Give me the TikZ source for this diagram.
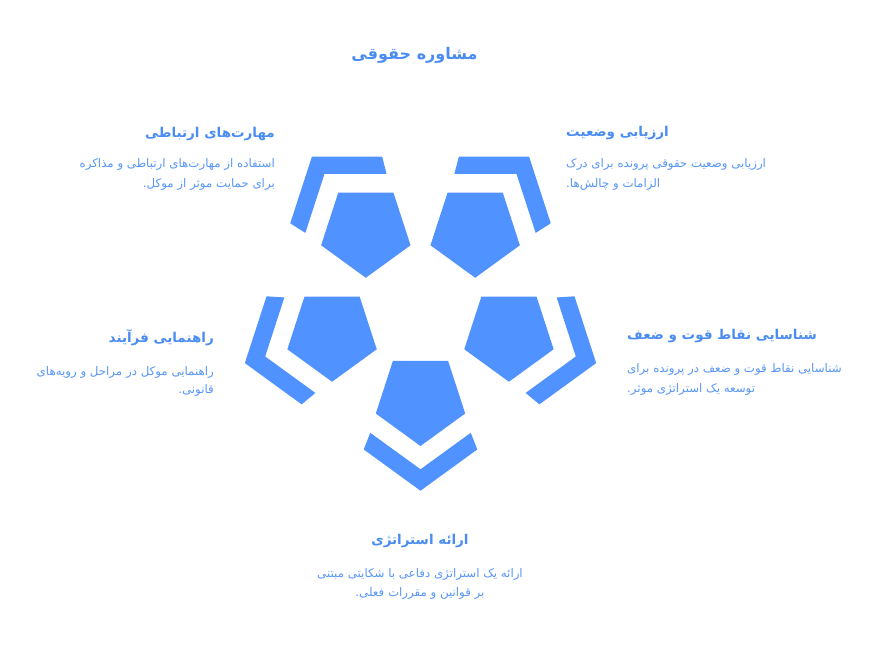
\documentclass[tikz,border=0pt]{standalone}
\usepackage{fontspec}
\usetikzlibrary{calc}
\newfontfamily\arabicfont[Script=Arabic]{DejaVu Sans}
\TeXXeTstate=1
\definecolor{pblue}{RGB}{80,146,255}
\definecolor{hblue}{RGB}{74,140,242}
\definecolor{tblue}{RGB}{88,150,246}
\tikzset{
  titletext/.style={font=\arabicfont\bfseries\fontsize{16}{20}\selectfont, text=hblue, inner sep=0pt},
  headtext/.style={font=\arabicfont\bfseries\fontsize{13.5}{16}\selectfont, text=hblue, inner sep=0pt},
  bodytext/.style={font=\arabicfont\fontsize{11.8}{14}\selectfont, text=tblue, inner sep=0pt},
}
\begin{document}
\begin{tikzpicture}[x=1pt,y=1pt]
\useasboundingbox (0,0) rectangle (877,649);
\coordinate (O) at (420.5,343);
\foreach \a in {54,126,198,270,342} {
  \coordinate (C) at ($(O)+(\a:93)$);
  \fill[pblue] ($(C)+(54:47)$) -- ($(C)+(126:47)$) -- ($(C)+(198:47)$) -- ($(C)+(270:47)$) -- ($(C)+(342:47)$) -- cycle;
  \begin{scope}
    \clip ($(O)+({\a-21.6}:100)$) -- ($(O)+({\a-21.6}:320)$) -- ($(O)+({\a+21.6}:320)$) -- ($(O)+({\a+21.6}:100)$) -- cycle;
    \fill[pblue,even odd rule]
      ($(C)+(54:91.7)$) -- ($(C)+(126:91.7)$) -- ($(C)+(198:91.7)$) -- ($(C)+(270:91.7)$) -- ($(C)+(342:91.7)$) -- cycle
      ($(C)+(54:70.3)$) -- ($(C)+(126:70.3)$) -- ($(C)+(198:70.3)$) -- ($(C)+(270:70.3)$) -- ($(C)+(342:70.3)$) -- cycle;
  \end{scope}
}
\node[titletext] (title) at (414.5,594) {\beginR مشاوره حقوقی\endR};
% top-left
\node[headtext,anchor=east] (h1) at (275,515) {\beginR مهارت‌های ارتباطی\endR};
\node[bodytext,anchor=east] (b1a) at (275,485) {\beginR استفاده از مهارت‌های ارتباطی و مذاکره\endR};
\node[bodytext,anchor=east] (b1b) at (275,465) {\beginR برای حمایت موثر از موکل.\endR};
% top-right
\node[headtext,anchor=west] (h2) at (566,516) {\beginR ارزیابی وضعیت\endR};
\node[bodytext,anchor=west] (b2a) at (566,485) {\beginR ارزیابی وضعیت حقوقی پرونده برای درک\endR};
\node[bodytext,anchor=west] (b2b) at (566,465) {\beginR الزامات و چالش‌ها.\endR};
% middle-left
\node[headtext,anchor=east] (h3) at (214,311) {\beginR راهنمایی فرآیند\endR};
\node[bodytext,anchor=east] (b3a) at (214,277) {\beginR راهنمایی موکل در مراحل و رویه‌های\endR};
\node[bodytext,anchor=east] (b3b) at (214,259) {\beginR قانونی.\endR};
% middle-right
\node[headtext,anchor=west] (h4) at (627,313) {\beginR شناسایی نقاط قوت و ضعف\endR};
\node[bodytext,anchor=west] (b4a) at (627,280) {\beginR شناسایی نقاط قوت و ضعف در پرونده برای\endR};
\node[bodytext,anchor=west] (b4b) at (627,260) {\beginR توسعه یک استراتژی موثر.\endR};
% bottom
\node[headtext] (h5) at (420,108) {\beginR ارائه استراتژی\endR};
\node[bodytext] (b5a) at (420,75) {\beginR ارائه یک استراتژی دفاعی با شکایتی مبتنی\endR};
\node[bodytext] (b5b) at (420,56) {\beginR بر قوانین و مقررات فعلی.\endR};
\end{tikzpicture}
\end{document}
